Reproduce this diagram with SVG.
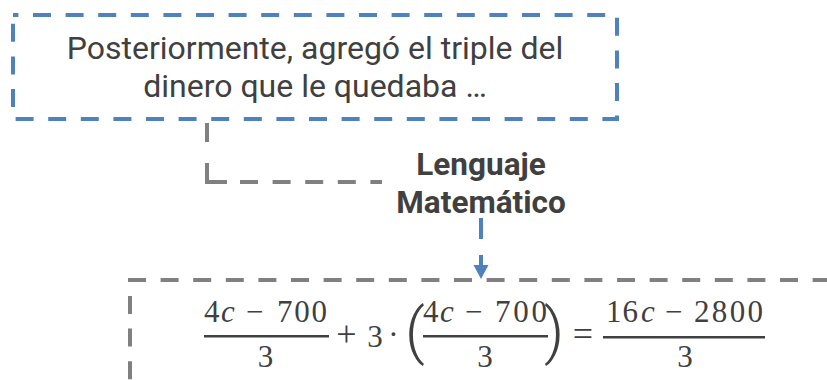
<svg xmlns="http://www.w3.org/2000/svg" width="827" height="380" viewBox="0 0 827 380">
<style>
.box{fill:none;stroke-width:4;stroke-dasharray:18 14.6}
.blue{stroke:#4F81BD}
.gray{stroke:#808080}
.txt{font-family:Roboto,"Liberation Sans",sans-serif;fill:#404040}
.math{font-family:"Liberation Serif","DejaVu Serif",serif;fill:#404040}
.par{font-family:Roboto,"Liberation Sans",sans-serif;fill:#404040;font-size:62px;font-weight:300}
.it{font-style:italic}
.bar{fill:#404040}
</style>
<defs>
<marker id="ah" markerUnits="userSpaceOnUse" markerWidth="16" markerHeight="16" refX="0" refY="8" orient="auto" overflow="visible">
<path d="M0,0.5 L14,8 L0,15.5 Z" fill="#4F81BD"/>
</marker>
</defs>
<g id="node-texto">
<rect class="box blue" x="13" y="15" width="604" height="104" stroke-dashoffset="12.6"/>
<text class="txt" style="font-size:32px" text-anchor="middle"><tspan x="315" y="59">Posteriormente, agregó el triple del</tspan><tspan x="315" y="97">dinero que le quedaba …</tspan></text>
</g>
<g id="node-label">
<text class="txt" style="font-size:31.5px;font-weight:bold" text-anchor="middle"><tspan x="481" y="175">Lenguaje</tspan><tspan x="481" y="213">Matemático</tspan></text>
</g>
<g id="node-ecuacion">
<path class="gray" d="M128 280 H830" fill="none" stroke-width="4" stroke-dasharray="18 14.6"/>
<path class="gray" d="M130 296 V385" fill="none" stroke-width="4" stroke-dasharray="18 14.6"/>
<text class="math" style="font-size:31px" y="322"><tspan x="204">4</tspan><tspan class="it" x="221">c</tspan><tspan x="246">−</tspan><tspan x="277" textLength="50">700</tspan></text>
<rect class="bar" x="204" y="335" width="125" height="2.5"/>
<text class="math" style="font-size:31px" x="265.5" y="367" text-anchor="middle">3</text>
<text class="math" style="font-size:36px" x="346.5" y="346" text-anchor="middle">+</text>
<text class="math" style="font-size:31px" x="375" y="347" text-anchor="middle">3</text>
<text class="math" style="font-size:31px" x="393.5" y="345" text-anchor="middle">·</text>
<text class="par" x="415" y="351.5" text-anchor="middle">(</text>
<text class="math" style="font-size:31px" y="322"><tspan x="423">4</tspan><tspan class="it" x="440">c</tspan><tspan x="465">−</tspan><tspan x="495" textLength="52">700</tspan></text>
<rect class="bar" x="423" y="335" width="125" height="2.5"/>
<text class="math" style="font-size:31px" x="485" y="367" text-anchor="middle">3</text>
<text class="par" x="554" y="351.5" text-anchor="middle">)</text>
<text class="math" style="font-size:36px" x="583" y="346" text-anchor="middle">=</text>
<text class="math" style="font-size:31px" y="322"><tspan x="606" textLength="32">16</tspan><tspan class="it" x="641">c</tspan><tspan x="665">−</tspan><tspan x="694" textLength="69">2800</tspan></text>
<rect class="bar" x="603" y="336" width="162" height="2.5"/>
<text class="math" style="font-size:31px" x="685" y="367" text-anchor="middle">3</text>
</g>
<g id="connectors">
<path class="gray" d="M207 123 V182 H382" fill="none" stroke-width="4" stroke-dasharray="19 21 39 13 18 14.6 18 14.6 18 14.6 18 14.6 12"/>
<path d="M481 218 V265" fill="none" stroke="#4F81BD" stroke-width="4" stroke-dasharray="21 16 20" marker-end="url(#ah)"/>
</g>
</svg>
